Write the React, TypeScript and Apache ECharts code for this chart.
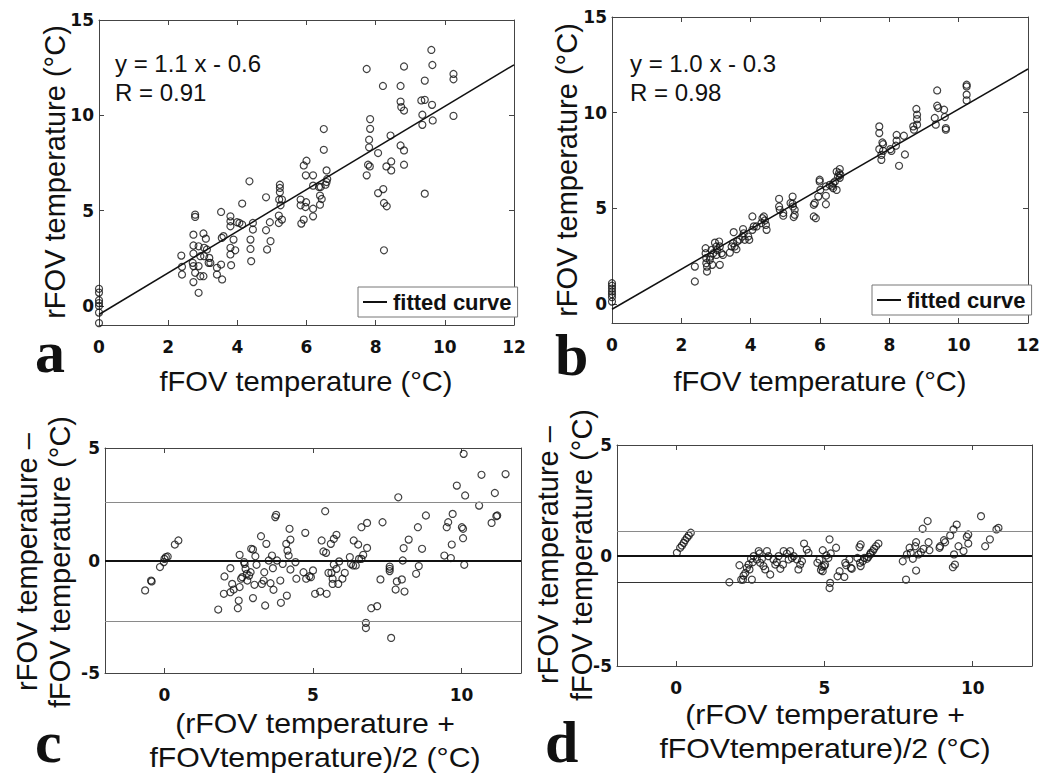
import React, { useEffect, useRef } from "react";
import * as echarts from "echarts";

// ---------- data ----------
const aPoints: number[][] = [
  [0, 0.9], [0, 0.7], [0, 0.3], [0, 0.15], [0, 0], [0, -0.35], [0, -0.9],
  [2.38, 2.64], [2.4, 2.05], [2.4, 1.65], [2.73, 3.74], [2.73, 3.17], [2.73, 2.75], [2.71, 2.26], [2.73, 2.09], [2.73, 1.25],
  [2.78, 4.79], [2.78, 4.67], [2.78, 1.74], [2.88, 0.69], [2.88, 3.13], [2.93, 2.61], [2.88, 2.09], [2.93, 1.56], [3.02, 3.8],
  [3.04, 3.05], [3.04, 2.61], [3.02, 1.56], [3.09, 3.53], [3.12, 2.96], [3.17, 2.26], [3.19, 2.52], [3.22, 2.26], [3.41, 2.0],
  [3.41, 1.65], [3.53, 4.93], [3.53, 2.17], [3.56, 1.39], [3.55, 3.57], [3.6, 3.66], [3.8, 4.7], [3.8, 4.44], [3.8, 4.18],
  [3.8, 2.7], [3.8, 3.05], [3.82, 2.14], [3.89, 3.48], [3.94, 2.92], [3.99, 4.39], [4.06, 4.35], [4.14, 4.27], [4.14, 5.37],
  [4.35, 6.54], [4.38, 3.48], [4.38, 2.99], [4.4, 2.35], [4.45, 4.35], [4.45, 4.01], [4.83, 5.7], [4.83, 3.97], [4.86, 2.96],
  [4.94, 4.39], [4.96, 3.4], [5.23, 6.36], [5.23, 6.19], [5.23, 5.96], [5.21, 5.58], [5.25, 5.28], [5.2, 4.74], [5.2, 4.35],
  [5.29, 5.58], [5.29, 4.53], [5.83, 5.58], [5.83, 5.28], [5.92, 4.53], [5.85, 4.32], [6.0, 7.62], [5.92, 7.37], [5.98, 6.85],
  [6.19, 6.85], [5.99, 5.44], [5.97, 5.19], [6.19, 6.31], [6.19, 5.1], [6.19, 4.7], [6.36, 6.24], [6.39, 5.79], [6.41, 6.24],
  [6.44, 5.61], [6.39, 5.31], [6.5, 9.28], [6.5, 8.19], [6.55, 6.36], [6.58, 7.11], [6.6, 6.66], [6.58, 6.5], [7.74, 12.43],
  [7.74, 6.85], [7.78, 7.41], [7.84, 9.8], [7.84, 9.29], [7.81, 8.72], [7.81, 8.32], [7.83, 7.32], [8.07, 8.02], [8.07, 5.92],
  [8.21, 11.54], [8.22, 6.13], [8.24, 5.4], [8.32, 5.23], [8.24, 2.92], [8.31, 7.32], [8.43, 8.94], [8.45, 7.58], [8.45, 7.11],
  [8.72, 11.54], [8.72, 10.72], [8.74, 10.43], [8.82, 12.56], [8.82, 10.25], [8.72, 8.42], [8.82, 8.16], [8.82, 7.41],
  [9.35, 10.03], [9.35, 9.5], [9.32, 10.78], [9.42, 10.81], [9.42, 11.82], [9.61, 13.43], [9.64, 12.64], [9.63, 10.55],
  [9.65, 9.73], [9.42, 5.89], [10.25, 12.17], [10.25, 11.89], [10.25, 9.97],
];

const bPoints: number[][] = [
  [0, 1.08], [0, 0.95], [0, 0.8], [0, 0.65], [0, 0.5], [0, 0.35], [0, 0.12],
  [2.39, 1.95], [2.39, 1.17], [2.7, 2.91], [2.7, 2.65], [2.72, 2.39], [2.72, 2.13], [2.74, 1.95], [2.74, 1.69], [2.82, 2.3],
  [2.84, 2.47], [2.87, 2.82], [2.89, 2.04], [2.92, 2.65], [2.97, 3.2], [3.01, 3.0], [3.01, 2.56], [3.03, 2.82], [3.09, 3.26],
  [3.11, 3.0], [3.11, 2.04], [3.16, 2.65], [3.2, 2.56], [3.4, 2.68], [3.45, 3.0], [3.49, 3.17], [3.51, 3.75], [3.54, 3.0],
  [3.59, 2.86], [3.61, 3.26], [3.68, 3.35], [3.76, 3.52], [3.78, 3.91], [3.8, 3.69], [3.83, 3.35], [3.93, 3.52], [3.96, 3.35],
  [4.05, 4.57], [4.05, 3.87], [4.09, 4.05], [4.17, 4.05], [4.31, 4.22], [4.34, 4.48], [4.38, 4.57], [4.41, 4.36], [4.44, 4.13],
  [4.46, 3.87], [4.82, 5.49], [4.82, 5.09], [4.84, 4.92], [4.94, 4.75], [4.94, 4.61], [5.21, 5.61], [5.21, 5.23], [5.22, 5.09],
  [5.27, 4.92], [5.27, 4.66], [5.24, 4.54], [5.15, 5.27], [5.82, 5.18], [5.82, 4.57], [5.88, 4.48], [5.85, 5.27], [5.95, 5.61],
  [5.99, 6.49], [5.99, 6.4], [6.01, 5.96], [6.17, 6.14], [6.17, 5.65], [6.17, 5.21], [6.28, 6.22], [6.35, 6.14], [6.38, 6.31],
  [6.38, 6.05], [6.43, 6.4], [6.48, 6.92], [6.48, 5.96], [6.52, 6.66], [6.55, 6.84], [6.57, 7.05], [6.57, 6.59], [6.59, 6.75],
  [7.71, 9.28], [7.71, 8.93], [7.71, 8.09], [7.77, 7.79], [7.77, 7.53], [7.8, 8.44], [7.82, 8.35], [7.82, 8.0], [8.03, 8.09],
  [8.06, 8.0], [8.19, 8.27], [8.21, 8.83], [8.21, 8.53], [8.28, 7.22], [8.42, 8.79], [8.45, 7.81], [8.69, 9.28], [8.71, 9.11],
  [8.78, 10.19], [8.8, 9.89], [8.8, 9.66], [8.8, 9.37], [9.31, 9.72], [9.34, 9.37], [9.38, 11.16], [9.38, 10.36], [9.41, 10.24],
  [9.58, 10.15], [9.6, 9.77], [9.63, 9.19], [9.63, 9.11], [10.23, 11.46], [10.23, 11.37], [10.23, 10.94], [10.23, 10.64],
];

const cPoints: number[][] = [
  [-0.65, -1.33], [-0.45, -0.89], [-0.43, -0.93], [-0.15, -0.29], [-0.02, -0.07], [0.0, 0.07], [0.05, 0.15], [0.11, 0.18],
  [0.35, 0.71], [0.47, 0.89], [1.81, -2.18], [2.0, -1.48], [2.02, -0.71], [2.22, -0.34], [2.22, -1.41], [2.28, -1.04],
  [2.33, -1.29], [2.47, -2.12], [2.5, -1.78], [2.53, 0.25], [2.53, -1.18], [2.58, -0.81], [2.62, -0.74], [2.68, -0.07],
  [2.7, -0.15], [2.73, -0.37], [2.77, -0.59], [2.79, -0.89], [2.85, -0.67], [2.9, -0.52], [2.92, 0.52], [2.98, 0.49],
  [2.98, -1.67], [3.06, 0.19], [3.1, -0.19], [3.03, -1.08], [3.25, 1.08], [3.28, -1.04], [3.34, -0.89], [3.36, -0.52],
  [3.39, -2.0], [3.43, 0.74], [3.51, 0.0], [3.57, -1.01], [3.62, 0.22], [3.65, -0.34], [3.67, -1.3], [3.73, 1.93], [3.76, 2.03],
  [3.79, 0.0], [3.9, -0.89], [3.92, -1.88], [3.98, -0.15], [4.1, 0.74], [4.12, -1.56], [4.14, 0.44], [4.18, 0.22], [4.21, 1.41],
  [4.24, -0.4], [4.24, 0.93], [4.41, -0.07], [4.44, -0.81], [4.68, -0.52], [4.74, 1.23], [4.77, -0.81], [4.88, -0.7],
  [4.93, -0.74], [5.0, -0.44], [5.07, -1.48], [5.24, -1.38], [5.29, 0.89], [5.35, 0.4], [5.44, 0.34], [5.41, 2.19],
  [5.46, -1.48], [5.52, -0.55], [5.6, 0.74], [5.62, -0.55], [5.66, -0.81], [5.66, -1.04], [5.7, 0.96], [5.79, 1.14],
  [5.7, -0.18], [5.79, -0.37], [5.85, -1.04], [5.88, -0.04], [5.99, -0.81], [6.07, -0.55], [6.24, 0.15], [6.28, -0.15],
  [6.35, -0.22], [6.44, -0.22], [6.37, 0.89], [6.52, 0.71], [6.55, 0.07], [6.63, 0.07], [6.69, 0.25], [6.63, 1.48],
  [6.82, 1.67], [6.82, 0.56], [6.78, -2.77], [6.78, -3.0], [6.96, -2.12], [7.16, -2.03], [7.27, -0.84], [7.34, 1.7],
  [7.58, -0.27], [7.58, -0.37], [7.58, -0.47], [7.63, -3.44], [7.78, -1.29], [7.82, -0.93], [7.87, 2.81], [7.99, -0.84],
  [8.02, 0.0], [8.05, 0.55], [8.08, -1.38], [8.22, 0.93], [8.47, -0.59], [8.53, 1.48], [8.56, -0.25], [8.67, 0.52], [8.8, 2.0],
  [9.42, 0.22], [9.5, 1.48], [9.55, 1.7], [9.64, 0.11], [9.67, 0.71], [9.7, 2.07], [9.84, 3.33], [10.01, 1.48], [10.05, 1.41],
  [10.05, 0.99], [10.07, 4.74], [10.09, -0.19], [10.12, 2.89], [10.59, 2.44], [10.67, 3.81], [11.01, 1.67], [11.12, 3.0],
  [11.2, 2.0], [11.17, 1.97], [11.48, 3.84],
];

const dPoints: number[][] = [
  [0.02, 0.12], [0.13, 0.35], [0.19, 0.45], [0.25, 0.57], [0.3, 0.69], [0.36, 0.8], [0.42, 0.91], [0.49, 1.03],
  [1.79, -1.21], [2.13, -0.44], [2.19, -1.09], [2.27, -0.91], [2.33, -0.79], [2.25, -1.09], [2.38, -0.56], [2.44, -0.41],
  [2.47, -0.63], [2.55, -1.09], [2.52, -0.15], [2.61, -0.03], [2.58, -0.3], [2.78, 0.2], [2.81, 0.09], [2.72, -0.18],
  [2.83, -0.33], [2.89, -0.15], [2.94, -0.48], [3.0, -0.63], [3.06, 0.2], [3.11, -0.03], [3.17, -0.86], [3.28, -0.18],
  [3.34, -0.41], [3.39, -0.3], [3.45, -0.03], [3.51, -0.6], [3.6, -0.41], [3.62, 0.2], [3.73, 0.09], [3.84, 0.2],
  [3.79, -0.18], [3.9, -0.11], [3.96, -0.03], [4.07, -0.18], [4.12, -0.63], [4.18, -0.41], [4.24, -0.26], [4.31, 0.54],
  [4.4, 0.27], [4.46, 0.12], [4.76, -0.33], [4.83, -0.18], [4.88, -0.66], [4.91, -0.51], [4.94, -0.71], [4.99, -0.48],
  [5.02, -0.41], [5.06, 0.0], [4.94, 0.24], [5.17, 0.73], [5.13, -0.11], [5.21, 0.09], [5.19, -1.24], [5.17, -1.47],
  [5.39, 0.35], [5.44, -0.94], [5.51, -0.71], [5.67, -0.97], [5.7, -0.33], [5.73, -0.44], [5.84, -0.18], [5.89, -0.56],
  [5.92, -0.6], [6.11, -0.11], [6.18, 0.38], [6.22, 0.5], [6.2, -0.33], [6.22, -0.48], [6.29, -0.26], [6.34, -0.11],
  [6.43, -0.15], [6.48, -0.06], [6.54, 0.05], [6.56, 0.12], [6.63, 0.2], [6.67, 0.3], [6.74, 0.42], [6.82, 0.54],
  [7.64, -0.26], [7.75, -1.09], [7.78, 0.05], [7.87, 0.35], [7.91, 0.12], [7.98, -0.15], [8.06, 0.42], [8.09, 0.6],
  [8.09, -0.68], [8.17, 0.05], [8.25, 0.15], [8.31, 1.21], [8.34, 0.3], [8.48, 1.56], [8.51, 0.6], [8.54, 0.24],
  [8.88, 0.35], [8.9, 0.42], [9.03, 0.69], [9.07, 0.6], [9.24, 0.91], [9.33, -0.53], [9.35, 1.18], [9.37, 0.05],
  [9.4, -0.41], [9.46, 1.4], [9.52, 0.42], [9.69, 0.2], [9.8, 0.85], [9.85, 0.95], [9.85, 0.54], [10.28, 1.78],
  [10.42, 0.42], [10.58, 0.73], [10.8, 1.18], [10.87, 1.25],
];

const fitA: number[][] = [[0, -0.45], [12, 12.65]];
const fitB: number[][] = [[0, -0.28], [12, 12.28]];

const cLimits = { mean: 0, upper: 2.6, lower: -2.7 };
const dLimits = { mean: 0, upper: 1.1, lower: -1.2 };

const scatterXTicks = [0, 2, 4, 6, 8, 10, 12];
const scatterYTicks = [0, 5, 10, 15];
const baXTicks = [0, 5, 10];
const baYTicks = [-5, 0, 5];

// ---------- styling ----------
const FRAME = "#444";
const tickFont = { fontFamily: "DejaVu Sans", fontWeight: "bold" as const, fontSize: 17, color: "#111" };

const grids = [
  { left: 99, top: 20, width: 415, height: 305 },
  { left: 612, top: 17, width: 416, height: 306 },
  { left: 105, top: 448, width: 416, height: 225 },
  { left: 617, top: 445, width: 415, height: 221 },
];

function xAxes(gridIndex: number, min: number, max: number, ticks: number[]) {
  const common = {
    type: "value", gridIndex, min, max, splitLine: { show: false },
    axisLine: { show: true, onZero: false, lineStyle: { color: FRAME, width: 1 } },
    axisTick: { show: true, inside: true, length: 5, customValues: ticks, lineStyle: { color: FRAME } },
  };
  return [
    { ...common, position: "bottom", axisLabel: { show: true, customValues: ticks, margin: 13, ...tickFont } },
    { ...common, position: "top", axisLabel: { show: false } },
  ];
}
function yAxes(gridIndex: number, min: number, max: number, ticks: number[]) {
  const common = {
    type: "value", gridIndex, min, max, splitLine: { show: false },
    axisLine: { show: true, onZero: false, lineStyle: { color: FRAME, width: 1 } },
    axisTick: { show: true, inside: true, length: 5, customValues: ticks, lineStyle: { color: FRAME } },
  };
  return [
    { ...common, position: "left", axisLabel: { show: true, customValues: ticks, margin: 5, ...tickFont } },
    { ...common, position: "right", axisLabel: { show: false } },
  ];
}

const circleStyle = { color: "rgba(0,0,0,0)", borderColor: "#111", borderWidth: 1.2 };

function scatter(i: number, data: number[][], extra: any = {}) {
  return {
    type: "scatter", xAxisIndex: 2 * i, yAxisIndex: 2 * i, data,
    symbol: "circle", symbolSize: 7, itemStyle: circleStyle, silent: true, z: 3, ...extra,
  };
}
function limitLines(l: { mean: number; upper: number; lower: number }, lowerColor: string) {
  return {
    markLine: {
      silent: true, symbol: ["none", "none"], label: { show: false }, animation: false,
      data: [
        { yAxis: l.mean, lineStyle: { color: "#111", width: 2, type: "solid" } },
        { yAxis: l.upper, lineStyle: { color: "#8a8a8a", width: 1, type: "solid" } },
        { yAxis: l.lower, lineStyle: { color: lowerColor, width: 1, type: "solid" } },
      ],
    },
  };
}
function fitLine(i: number, data: number[][]) {
  return {
    type: "line", name: "fitted curve", xAxisIndex: 2 * i, yAxisIndex: 2 * i, data,
    symbol: "none", showSymbol: false, color: "#111", itemStyle: { color: "#111" },
    lineStyle: { color: "#111", width: 1.5 }, silent: true, z: 2,
  };
}

const sans = '"Liberation Sans", Arial, sans-serif';
function txt(x: number, y: number, text: string, size: number, opts: any = {}) {
  const { rotation, scaleX, scaleY, align, weight, family, lineHeight, va } = opts;
  return {
    type: "text", x, y, rotation: rotation || 0, scaleX: scaleX || 1, scaleY: scaleY || 1, silent: true,
    style: {
      text, fill: "#111", fontSize: size, fontFamily: family || sans, fontWeight: weight || "normal",
      align: align || "center", verticalAlign: va || "middle", lineHeight: lineHeight || size * 1.2,
    },
  };
}
const letter = (x: number, y: number, t: string) =>
  txt(x, y, t, 60, { align: "left", weight: "bold", family: '"Liberation Serif", "Times New Roman", serif' });

const legendCommon = {
  data: [{ name: "fitted curve", icon: "rect" }], orient: "horizontal", selectedMode: false,
  backgroundColor: "#fff", borderColor: "#777", borderWidth: 1, padding: [4, 6, 4, 5],
  itemWidth: 24, itemHeight: 2, itemGap: 4,
  itemStyle: { color: "#111" },
  textStyle: { fontFamily: sans, fontWeight: "bold", fontSize: 22, color: "#111", padding: [0, 0, 0, 1] },
};

export default function App() {
  const ref = useRef<HTMLDivElement>(null);
  useEffect(() => {
    if (!ref.current) return;
    const chart = echarts.init(ref.current, null, { renderer: "svg", width: 1050, height: 780 });
    const option: any = {
      animation: false,
      backgroundColor: "#fff",
      grid: grids.map((g) => ({ ...g, show: false })),
      xAxis: [
        ...xAxes(0, 0, 12, scatterXTicks),
        ...xAxes(1, 0, 12, scatterXTicks),
        ...xAxes(2, -2, 12, baXTicks),
        ...xAxes(3, -2, 12, baXTicks),
      ],
      yAxis: [
        ...yAxes(0, -1, 15, scatterYTicks),
        ...yAxes(1, -1, 15, scatterYTicks),
        ...yAxes(2, -5, 5, baYTicks),
        ...yAxes(3, -5, 5, baYTicks),
      ],
      legend: [
        { ...legendCommon, left: 358, top: 287 },
        { ...legendCommon, left: 872, top: 285 },
      ],
      series: [
        fitLine(0, fitA),
        scatter(0, aPoints),
        fitLine(1, fitB),
        scatter(1, bPoints),
        scatter(2, cPoints, limitLines(cLimits, "#8a8a8a")),
        scatter(3, dPoints, limitLines(dLimits, "#333")),
      ],
      graphic: [
        // axis titles
        txt(55, 172, "rFOV temperature (°C)", 29, { rotation: Math.PI / 2 }),
        txt(567, 170, "rFOV temperature (°C)", 29, { rotation: Math.PI / 2 }),
        txt(306, 381, "fFOV temperature (°C)", 28, { scaleX: 1.04 }),
        txt(820, 381, "fFOV temperature (°C)", 28, { scaleX: 1.04 }),
        txt(43, 562, "rFOV temperature –\nfFOV temperature (°C)", 29, { rotation: Math.PI / 2, lineHeight: 33 }),
        txt(565, 555, "rFOV temperature –\nfFOV temperature (°C)", 29, { rotation: Math.PI / 2, lineHeight: 34 }),
        txt(315, 740, "(rFOV temperature +\nfFOVtemperature)/2 (°C)", 28, { scaleX: 1.08, lineHeight: 34 }),
        txt(825, 731, "(rFOV temperature +\nfFOVtemperature)/2 (°C)", 28, { scaleX: 1.08, lineHeight: 34 }),
        // equations
        txt(115, 63, "y = 1.1 x - 0.6", 24, { align: "left" }),
        txt(115, 92, "R = 0.91", 24, { align: "left" }),
        txt(630, 63, "y = 1.0 x - 0.3", 24, { align: "left" }),
        txt(630, 92, "R = 0.98", 24, { align: "left" }),
        // panel letters
        letter(35, 352, "a"),
        letter(555, 355, "b"),
        letter(35, 742, "c"),
        letter(545, 742, "d"),
      ],
    };
    chart.setOption(option);
    return () => chart.dispose();
  }, []);
  return (
    <div
      ref={ref}
      style={{ position: "absolute", left: 0, top: 0, width: 1050, height: 780, background: "#fff" }}
    />
  );
}
